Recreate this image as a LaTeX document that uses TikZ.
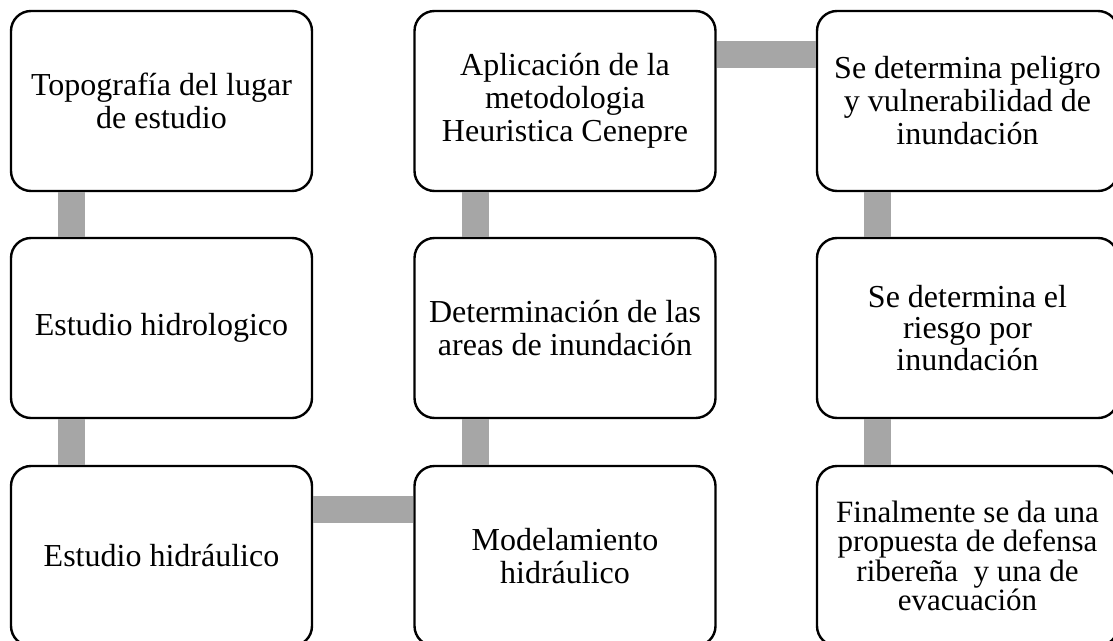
\documentclass[tikz,border=0pt]{standalone}
\usepackage{fontspec}
\setmainfont{Liberation Serif}
\usepackage{tikz}
\usetikzlibrary{positioning}

\tikzset{
  stepbox/.style={draw, rectangle, rounded corners=20pt, line width=2.4pt, fill=white,
    minimum width=301pt, minimum height=180pt, align=center, inner sep=0pt,
    font=\fontsize{32}{33}\selectfont},
  bar/.style={draw={rgb,255:red,166;green,166;blue,166}, line width=27pt}
}

\begin{document}
\begin{tikzpicture}[x=1pt, y=1pt]
				\useasboundingbox (0,0) rectangle (1113,-640);
				\node[stepbox] (topo) at (161.5, -101) {Topografía del lugar\\de estudio};
				\node[stepbox] (hidrol) at (161.5, -328) {Estudio hidrologico};
				\node[stepbox] (hidra) at (161.5, -556) {Estudio hidráulico};
				\node[stepbox] (model) at (565, -556) {Modelamiento\\hidráulico};
				\node[stepbox] (areas) at (565, -328) {Determinación de las\\areas de inundación};
				\node[stepbox] (metod) at (565, -101) {Aplicación de la\\metodologia\\Heuristica Cenepre};
				\node[stepbox] (peligro) at (967.5, -101) {Se determina peligro\\y vulnerabilidad de\\inundación};
				\node[stepbox, font=\fontsize{32}{31.5}\selectfont] (riesgo) at (967.5, -328) {Se determina el\\riesgo por\\inundación};
				\node[stepbox, font=\fontsize{31}{29.5}\selectfont] (propuesta) at (967.5, -556) {Finalmente se da una\\propuesta de defensa\\ribereña \ y una de\\evacuación};
				\draw[bar] ([xshift=62pt]topo.south west) -- ([xshift=62pt]hidrol.north west);
				\draw[bar] ([xshift=62pt]hidrol.south west) -- ([xshift=62pt]hidra.north west);
				\draw[bar] ([yshift=-45pt]hidra.north east) -- ([yshift=-45pt]model.north west);
				\draw[bar] ([xshift=62pt]model.north west) -- ([xshift=62pt]areas.south west);
				\draw[bar] ([xshift=62pt]areas.north west) -- ([xshift=62pt]metod.south west);
				\draw[bar] ([yshift=-45pt]metod.north east) -- ([yshift=-45pt]peligro.north west);
				\draw[bar] ([xshift=62pt]peligro.south west) -- ([xshift=62pt]riesgo.north west);
				\draw[bar] ([xshift=62pt]riesgo.south west) -- ([xshift=62pt]propuesta.north west);
			\end{tikzpicture}
\end{document}
